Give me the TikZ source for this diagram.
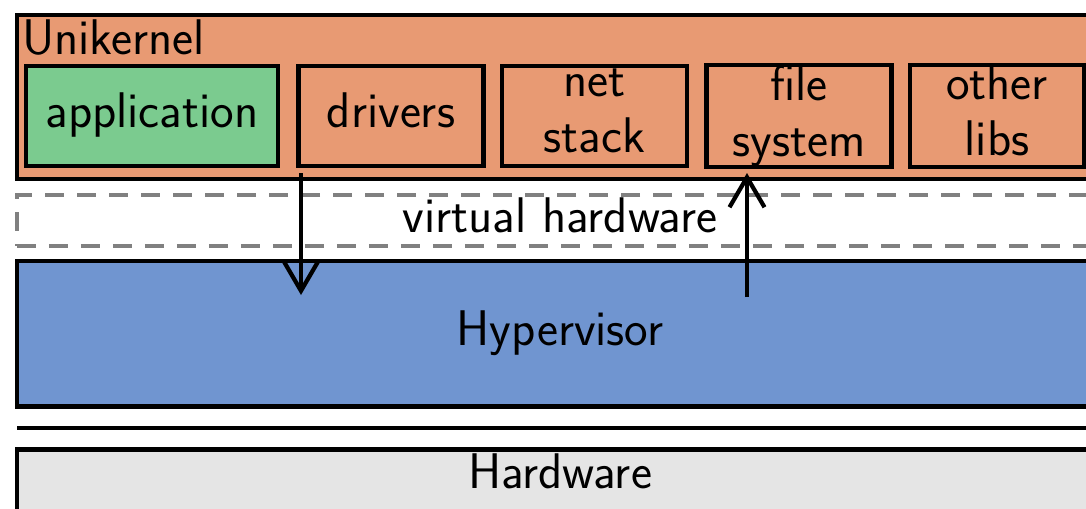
\documentclass[tikz,border=0pt]{standalone}
\usepackage{tikz}
\usetikzlibrary{arrows.meta, positioning}

\definecolor{ukorange}{RGB}{232,154,115}
\definecolor{appgreen}{RGB}{123,203,143}
\definecolor{hypblue}{RGB}{112,149,208}
\definecolor{hwgray}{RGB}{229,229,229}
\newcommand{\boxstrut}{\rule[-2.2mm]{0pt}{8.8mm}}

\begin{document}
\begin{tikzpicture}[x=0.2mm, y=-0.2mm,
        every node/.style={font=\sffamily\fontsize{28.5}{31.9}\selectfont},
        layer/.style={rectangle, draw=black, line width=0.9mm, inner sep=0pt, minimum width=217.2mm, align=center, execute at begin node=\boxstrut, execute at end node=\boxstrut},
        libbox/.style={rectangle, draw=black, line width=0.85mm, inner sep=0pt, fill=ukorange, minimum width=37mm, minimum height=20mm, align=center, execute at begin node=\boxstrut, execute at end node=\boxstrut},
        flow/.style={-{Straight Barb[length=6mm, width=7mm]}, line width=0.85mm}
    ]
        \useasboundingbox (0,0) rectangle (1086,508);
        \clip (0,0) rectangle (1086,508);

        % unikernel and its parts
        \node[layer, fill=ukorange, minimum height=32.8mm] (uk) at (560,97) {};
        \node[anchor=north west, inner sep=0pt, xshift=1.4mm, yshift=-0.5mm] (uklabel) at (uk.north west) {\strut Unikernel};
        \node[libbox, fill=appgreen, minimum width=50.4mm] (app) at (152,116) {application};
        \node[libbox] (drivers) at (391,116) {drivers};
        \node[libbox] (net) at (594.5,116) {net\\stack};
        \node[libbox] (fs) at (799,116) {file\\system};
        \node[libbox, minimum width=34.8mm] (libs) at (997,116) {other\\libs};

        \node[layer, draw=black!50, dash pattern=on 3.8mm off 2.6mm, fill=white, minimum height=10.2mm] (vhw) at (560,220.5) {virtual hardware};
        \node[layer, fill=hypblue, minimum height=29.1mm] (hyp) at (560,333.75) {Hypervisor};

        \draw[line width=0.9mm] (17,428) -- (1103,428);

        \node[layer, fill=hwgray, minimum height=22.2mm] (hw) at (560,505) {};
        \node[below=0.4mm of hw.north, inner sep=0pt] (hwlabel) {\strut Hardware};

        % calls through the virtual hardware
        \coordinate (down start) at (301,173);
        \coordinate (down end) at (301,295);
        \coordinate (up start) at (747,297);
        \coordinate (up end) at (747,173);
        \draw[flow] (down start) -- (down end);
        \draw[flow] (up start) -- (up end);
    \end{tikzpicture}
\end{document}
